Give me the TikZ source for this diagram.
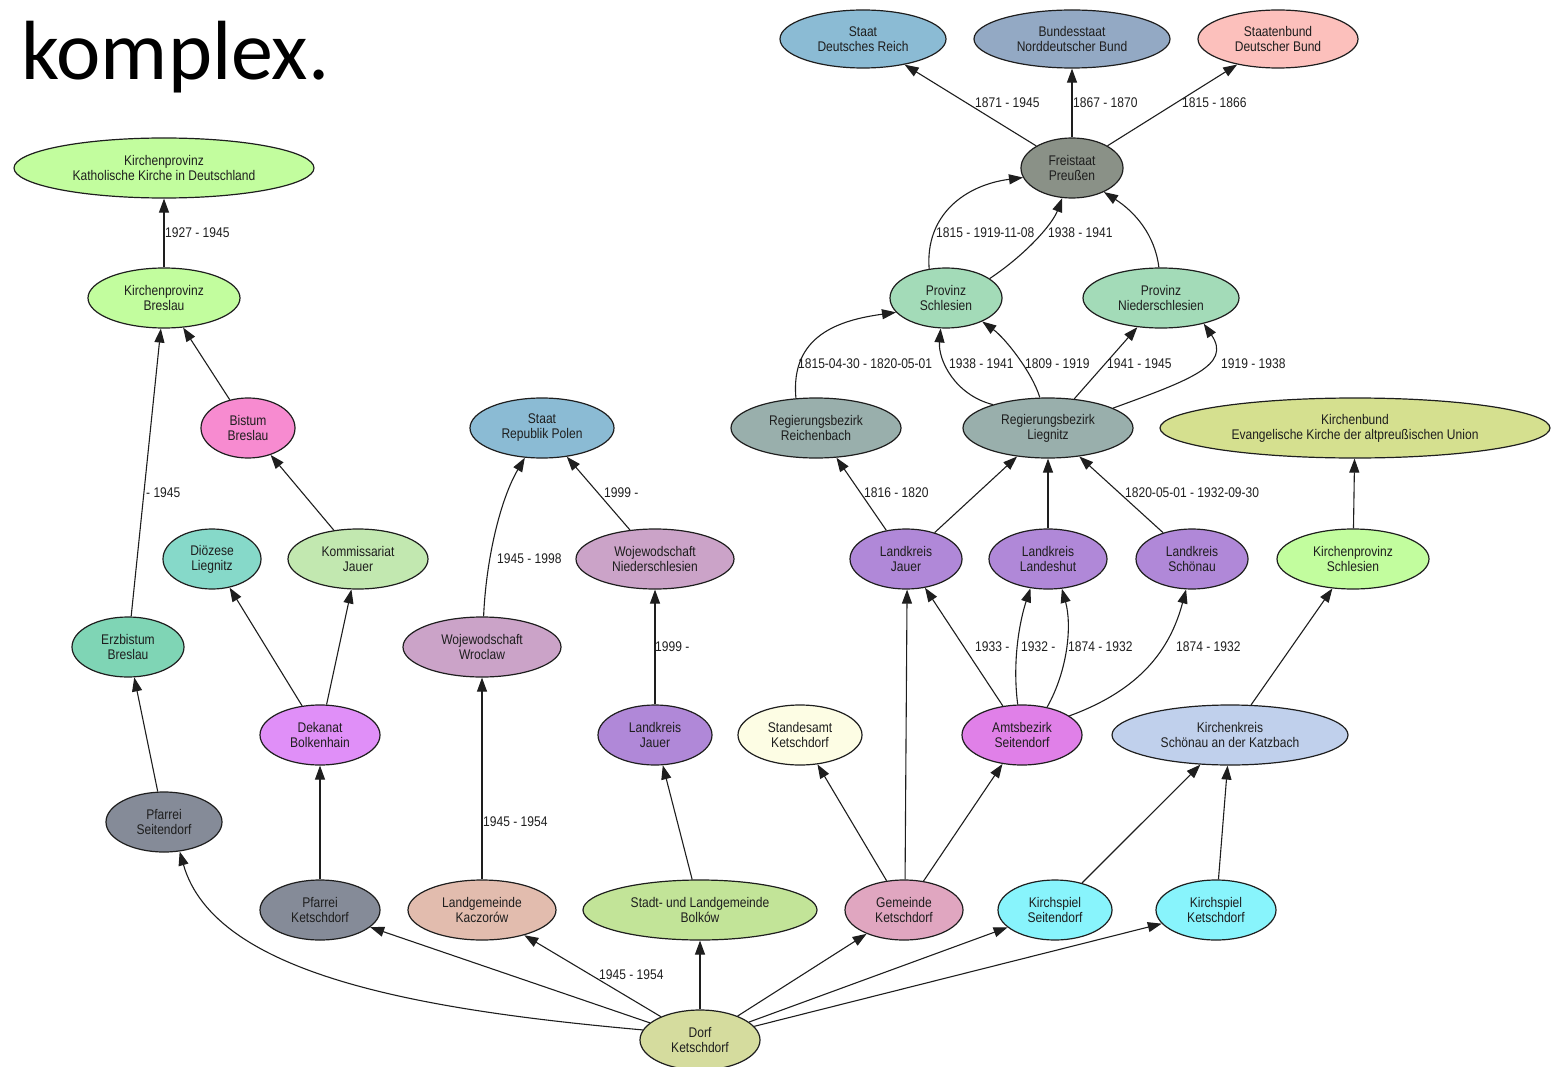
\documentclass[tikz,border=0pt]{standalone}
\usepackage{fontspec}
\setmainfont{Liberation Sans}[FakeStretch=0.86]
\newfontfamily\titlefont{Carlito}
\usetikzlibrary{arrows.meta,shapes.geometric}
\definecolor{cSky}{RGB}{139,187,212}
\definecolor{cSlate}{RGB}{147,169,196}
\definecolor{cPink}{RGB}{252,192,188}
\definecolor{cPreuss}{RGB}{138,145,135}
\definecolor{cProv}{RGB}{163,219,184}
\definecolor{cRB}{RGB}{153,175,172}
\definecolor{cKB}{RGB}{213,224,143}
\definecolor{cLK}{RGB}{176,136,216}
\definecolor{cKP}{RGB}{194,253,158}
\definecolor{cAmt}{RGB}{224,128,232}
\definecolor{cKK}{RGB}{192,208,236}
\definecolor{cStd}{RGB}{253,253,228}
\definecolor{cGem}{RGB}{224,166,192}
\definecolor{cKsp}{RGB}{136,244,252}
\definecolor{cBolk}{RGB}{194,228,152}
\definecolor{cKacz}{RGB}{226,188,174}
\definecolor{cPf}{RGB}{133,139,152}
\definecolor{cDorf}{RGB}{213,220,158}
\definecolor{cDek}{RGB}{224,143,248}
\definecolor{cWoj}{RGB}{203,163,200}
\definecolor{cEzb}{RGB}{127,213,181}
\definecolor{cDioz}{RGB}{134,217,201}
\definecolor{cKomm}{RGB}{194,232,176}
\definecolor{cBist}{RGB}{247,139,208}
\definecolor{cInk}{RGB}{30,30,30}
\begin{document}
\begin{tikzpicture}[x=1pt,y=-1pt,
  nd/.style={ellipse,draw=cInk,line width=1.2pt,inner sep=0pt,align=center,
    font=\fontsize{14}{15}\selectfont,text=cInk},
  sz/.style 2 args={minimum width=#1pt,minimum height=#2pt},
  edge/.style={line width=1.1pt,draw=cInk,-{Triangle[length=14pt,width=10pt]}},
  lbl/.style={anchor=west,inner sep=0pt,font=\fontsize{14}{15}\selectfont,text=cInk}]
\useasboundingbox (0,0) rectangle (1554,1067);

\node[anchor=base west,inner sep=0pt,font=\titlefont\fontsize{84}{90}\selectfont] (title) at (21,80) {komplex.};

% nodes
\node[nd,sz={166}{58},fill=cSky] (reich) at (863,39) {Staat\\Deutsches Reich};
\node[nd,sz={196}{58},fill=cSlate] (nordd) at (1072,39) {Bundesstaat\\Norddeutscher Bund};
\node[nd,sz={160}{58},fill=cPink] (dbund) at (1278,39) {Staatenbund\\Deutscher Bund};
\node[nd,sz={102}{60},fill=cPreuss] (preuss) at (1072,168) {Freistaat\\Preußen};
\node[nd,sz={112}{60},fill=cProv] (pschl) at (946,298) {Provinz\\Schlesien};
\node[nd,sz={156}{60},fill=cProv] (pnied) at (1161,298) {Provinz\\Niederschlesien};
\node[nd,sz={170}{60},fill=cRB] (rbr) at (816,428) {Regierungsbezirk\\Reichenbach};
\node[nd,sz={170}{60},fill=cRB] (rbl) at (1048,428) {Regierungsbezirk\\Liegnitz};
\node[nd,sz={390}{60},fill=cKB] (kbund) at (1355,428) {Kirchenbund\\Evangelische Kirche der altpreußischen Union};
\node[nd,sz={112}{60},fill=cLK] (lkj) at (906,559) {Landkreis\\Jauer};
\node[nd,sz={118}{60},fill=cLK] (lkl) at (1048,559) {Landkreis\\Landeshut};
\node[nd,sz={112}{60},fill=cLK] (lks) at (1192,559) {Landkreis\\Schönau};
\node[nd,sz={152}{60},fill=cKP] (kps) at (1353,559) {Kirchenprovinz\\Schlesien};
\node[nd,sz={120}{60},fill=cAmt] (amt) at (1022,735) {Amtsbezirk\\Seitendorf};
\node[nd,sz={236}{60},fill=cKK] (kk) at (1230,735) {Kirchenkreis\\Schönau an der Katzbach};
\node[nd,sz={124}{60},fill=cStd] (std) at (800,735) {Standesamt\\Ketschdorf};
\node[nd,sz={114}{60},fill=cLK] (lkj2) at (655,735) {Landkreis\\Jauer};
\node[nd,sz={118}{60},fill=cGem] (gem) at (904,910) {Gemeinde\\Ketschdorf};
\node[nd,sz={114}{60},fill=cKsp] (ksp1) at (1055,910) {Kirchspiel\\Seitendorf};
\node[nd,sz={120}{60},fill=cKsp] (ksp2) at (1216,910) {Kirchspiel\\Ketschdorf};
\node[nd,sz={234}{60},fill=cBolk] (bolk) at (700,910) {Stadt- und Landgemeinde\\Bolków};
\node[nd,sz={148}{60},fill=cKacz] (kacz) at (482,910) {Landgemeinde\\Kaczorów};
\node[nd,sz={120}{60},fill=cPf] (pfk) at (320,910) {Pfarrei\\Ketschdorf};
\node[nd,sz={116}{60},fill=cPf] (pfs) at (164,822) {Pfarrei\\Seitendorf};
\node[nd,sz={120}{60},fill=cDorf] (dorf) at (700,1040) {Dorf\\Ketschdorf};
\node[nd,sz={120}{60},fill=cDek] (dek) at (320,735) {Dekanat\\Bolkenhain};
\node[nd,sz={158}{60},fill=cWoj] (wwr) at (482,647) {Wojewodschaft\\Wroclaw};
\node[nd,sz={158}{60},fill=cWoj] (wnd) at (655,559) {Wojewodschaft\\Niederschlesien};
\node[nd,sz={144}{60},fill=cSky] (rpl) at (542,428) {Staat\\Republik Polen};
\node[nd,sz={112}{60},fill=cEzb] (ezb) at (128,647) {Erzbistum\\Breslau};
\node[nd,sz={98}{60},fill=cDioz] (dioz) at (212,559) {Diözese\\Liegnitz};
\node[nd,sz={140}{60},fill=cKomm] (komm) at (358,559) {Kommissariat\\Jauer};
\node[nd,sz={94}{60},fill=cBist] (bist) at (248,428) {Bistum\\Breslau};
\node[nd,sz={152}{60},fill=cKP] (kpb) at (164,298) {Kirchenprovinz\\Breslau};
\node[nd,sz={300}{60},fill=cKP] (kpk) at (164,168) {Kirchenprovinz\\Katholische Kirche in Deutschland};

% edges
\draw[edge] (preuss) -- (reich);
\draw[edge] (preuss) -- (nordd);
\draw[edge] (preuss) -- (dbund);
\draw[edge] (pschl.120) .. controls (925,215) and (965,185) .. (preuss.191);
\draw[edge] (pschl.24) .. controls (1025,255) and (1052,225) .. (preuss.252);
\draw[edge] (pnied.94) .. controls (1155,235) and (1135,212) .. (preuss.-37);
\draw[edge] (rbr.124) .. controls (790,335) and (840,320) .. (pschl.196);
\draw[edge] (rbl.157) .. controls (955,395) and (938,360) .. (pschl.260);
\draw[edge] (rbl.105) .. controls (1032,372) and (1005,338) .. (pschl.-33);
\draw[edge] (rbl.48) -- (pnied.231);
\draw[edge] (rbl.17) .. controls (1190,380) and (1232,365) .. (pnied.-31);
\draw[edge] (lkj) -- (rbr);
\draw[edge] (lkj) -- (rbl);
\draw[edge] (lkl) -- (rbl);
\draw[edge] (lks) -- (rbl);
\draw[edge] (kps) -- (kbund);
\draw[edge] (amt) -- (lkj);
\draw[edge] (amt.98) .. controls (1012,660) and (1020,620) .. (lkl.239);
\draw[edge] (amt.48) .. controls (1068,670) and (1072,625) .. (lkl.-65);
\draw[edge] (amt.22) .. controls (1140,690) and (1170,650) .. (lks.259);
\draw[edge] (kk) -- (kps);
\draw[edge] (gem.88) -- (lkj.272);
\draw[edge] (gem) -- (std);
\draw[edge] (gem) -- (amt);
\draw[edge] (ksp1) -- (kk);
\draw[edge] (ksp2) -- (kk);
\draw[edge] (dorf) -- (gem);
\draw[edge] (dorf) -- (ksp1);
\draw[edge] (dorf) -- (ksp2);
\draw[edge] (dorf) -- (bolk);
\draw[edge] (dorf) -- (kacz);
\draw[edge] (dorf) -- (pfk);
\draw[edge] (dorf.170) .. controls (420,1010) and (215,975) .. (pfs.-62);
\draw[edge] (bolk) -- (lkj2);
\draw[edge] (lkj2) -- (wnd);
\draw[edge] (kacz) -- (wwr);
\draw[edge] (wwr.87) .. controls (486,560) and (500,500) .. (rpl.240);
\draw[edge] (wnd) -- (rpl);
\draw[edge] (pfk) -- (dek);
\draw[edge] (dek) -- (dioz);
\draw[edge] (dek) -- (komm);
\draw[edge] (komm) -- (bist);
\draw[edge] (bist) -- (kpb);
\draw[edge] (ezb) -- (kpb);
\draw[edge] (pfs) -- (ezb);
\draw[edge] (kpb) -- (kpk);

% labels
\node[lbl] (l1) at (165,233) {1927 - 1945};
\node[lbl] (l2) at (975,103) {1871 - 1945};
\node[lbl] (l3) at (1073,103) {1867 - 1870};
\node[lbl] (l4) at (1182,103) {1815 - 1866};
\node[lbl] (l5) at (936,233) {1815 - 1919-11-08};
\node[lbl] (l6) at (1048,233) {1938 - 1941};
\node[lbl] (l7) at (798,364) {1815-04-30 - 1820-05-01};
\node[lbl] (l8) at (949,364) {1938 - 1941};
\node[lbl] (l9) at (1025,364) {1809 - 1919};
\node[lbl] (l10) at (1107,364) {1941 - 1945};
\node[lbl] (l11) at (1221,364) {1919 - 1938};
\node[lbl] (l12) at (146,493) {- 1945};
\node[lbl] (l13) at (604,493) {1999 -};
\node[lbl] (l14) at (864,493) {1816 - 1820};
\node[lbl] (l15) at (1125,493) {1820-05-01 - 1932-09-30};
\node[lbl] (l16) at (497,559) {1945 - 1998};
\node[lbl] (l17) at (655,647) {1999 -};
\node[lbl] (l18) at (975,647) {1933 -};
\node[lbl] (l19) at (1021,647) {1932 -};
\node[lbl] (l20) at (1068,647) {1874 - 1932};
\node[lbl] (l21) at (1176,647) {1874 - 1932};
\node[lbl] (l22) at (483,822) {1945 - 1954};
\node[lbl] (l23) at (599,975) {1945 - 1954};
\end{tikzpicture}
\end{document}
